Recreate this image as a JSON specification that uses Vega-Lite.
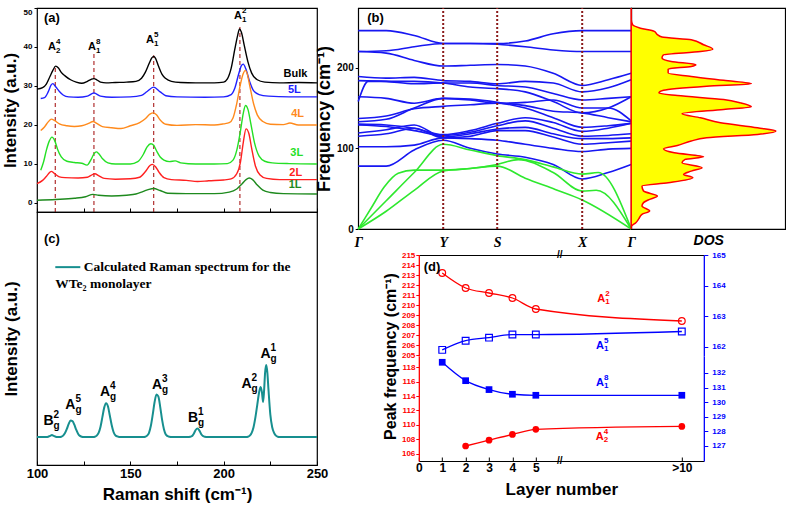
{
"$schema": "https://vega.github.io/schema/vega-lite/v6.json",
"background": "white",
"padding": {"left": 0, "top": 4, "right": 0, "bottom": 0},
"spacing": -15,
"resolve": {"scale": {"color": "independent"}},
"config": {
  "font": "Liberation Sans",
  "axis": {"grid": false, "labelFont": "Liberation Sans", "labelFontWeight": "bold", "titleFont": "Liberation Sans", "titleFontWeight": "bold", "labelColor": "black", "titleColor": "black", "tickColor": "black", "domainColor": "black"},
  "text": {"font": "Liberation Sans", "fontWeight": "bold"}
},
"datasets": {
  "specA": [
    {"s":"Bulk","x":100,"y":29.2},{"s":"Bulk","x":103,"y":29.6},{"s":"Bulk","x":105,"y":30.5},{"s":"Bulk","x":107,"y":32.5},{"s":"Bulk","x":108.5,"y":34.0},{"s":"Bulk","x":110,"y":35.1},{"s":"Bulk","x":111.5,"y":34.6},{"s":"Bulk","x":113,"y":33.5},{"s":"Bulk","x":115,"y":32.6},{"s":"Bulk","x":118,"y":31.6},{"s":"Bulk","x":121,"y":31.0},{"s":"Bulk","x":124,"y":30.7},{"s":"Bulk","x":127,"y":31.2},{"s":"Bulk","x":129,"y":31.7},{"s":"Bulk","x":130.5,"y":31.9},{"s":"Bulk","x":132,"y":31.6},{"s":"Bulk","x":134,"y":31.0},{"s":"Bulk","x":137,"y":30.8},{"s":"Bulk","x":142,"y":30.9},{"s":"Bulk","x":148,"y":31.0},{"s":"Bulk","x":153,"y":31.2},{"s":"Bulk","x":156,"y":32.0},{"s":"Bulk","x":158,"y":33.5},{"s":"Bulk","x":160,"y":35.7},{"s":"Bulk","x":161.5,"y":37.2},{"s":"Bulk","x":162.5,"y":37.6},{"s":"Bulk","x":163.5,"y":37.1},{"s":"Bulk","x":165,"y":35.2},{"s":"Bulk","x":167,"y":33.0},{"s":"Bulk","x":169,"y":31.9},{"s":"Bulk","x":172,"y":31.2},{"s":"Bulk","x":177,"y":30.9},{"s":"Bulk","x":185,"y":30.8},{"s":"Bulk","x":195,"y":30.8},{"s":"Bulk","x":200,"y":31.0},{"s":"Bulk","x":202,"y":31.8},{"s":"Bulk","x":204,"y":34.5},{"s":"Bulk","x":206,"y":39.5},{"s":"Bulk","x":207.5,"y":43.0},{"s":"Bulk","x":208.5,"y":44.6},{"s":"Bulk","x":209.5,"y":43.8},{"s":"Bulk","x":211,"y":40.5},{"s":"Bulk","x":213,"y":36.2},{"s":"Bulk","x":215,"y":33.3},{"s":"Bulk","x":218,"y":31.6},{"s":"Bulk","x":222,"y":31.0},{"s":"Bulk","x":230,"y":30.8},{"s":"Bulk","x":240,"y":30.9},{"s":"Bulk","x":250,"y":30.8},
    {"s":"5L","x":102,"y":26.8},{"s":"5L","x":104,"y":27.0},{"s":"5L","x":106,"y":28.5},{"s":"5L","x":107.5,"y":30.2},{"s":"5L","x":108.5,"y":30.6},{"s":"5L","x":110,"y":29.8},{"s":"5L","x":112,"y":28.6},{"s":"5L","x":114,"y":27.7},{"s":"5L","x":117,"y":27.2},{"s":"5L","x":122,"y":27.1},{"s":"5L","x":127,"y":27.4},{"s":"5L","x":130.5,"y":28.2},{"s":"5L","x":134,"y":27.4},{"s":"5L","x":140,"y":27.1},{"s":"5L","x":150,"y":27.2},{"s":"5L","x":156,"y":27.6},{"s":"5L","x":159,"y":28.6},{"s":"5L","x":162.5,"y":29.7},{"s":"5L","x":166,"y":28.5},{"s":"5L","x":169,"y":27.5},{"s":"5L","x":175,"y":27.2},{"s":"5L","x":190,"y":27.1},{"s":"5L","x":200,"y":27.2},{"s":"5L","x":204,"y":27.8},{"s":"5L","x":206,"y":29.5},{"s":"5L","x":208,"y":33.0},{"s":"5L","x":209.5,"y":35.2},{"s":"5L","x":210.5,"y":35.6},{"s":"5L","x":212,"y":34.2},{"s":"5L","x":214,"y":31.0},{"s":"5L","x":216,"y":28.8},{"s":"5L","x":219,"y":27.8},{"s":"5L","x":224,"y":27.4},{"s":"5L","x":235,"y":27.2},{"s":"5L","x":250,"y":27.2},
    {"s":"4L","x":102,"y":18.6},{"s":"4L","x":104,"y":19.5},{"s":"4L","x":106,"y":20.8},{"s":"4L","x":107.7,"y":21.5},{"s":"4L","x":109.5,"y":21.1},{"s":"4L","x":112,"y":20.3},{"s":"4L","x":116,"y":19.8},{"s":"4L","x":120,"y":19.6},{"s":"4L","x":124,"y":19.8},{"s":"4L","x":128,"y":20.5},{"s":"4L","x":130,"y":20.9},{"s":"4L","x":132,"y":20.4},{"s":"4L","x":135,"y":19.6},{"s":"4L","x":140,"y":19.3},{"s":"4L","x":145,"y":19.1},{"s":"4L","x":150,"y":19.8},{"s":"4L","x":155,"y":20.6},{"s":"4L","x":158,"y":21.6},{"s":"4L","x":160.5,"y":22.8},{"s":"4L","x":162.3,"y":23.1},{"s":"4L","x":164,"y":22.6},{"s":"4L","x":166,"y":21.3},{"s":"4L","x":169,"y":20.2},{"s":"4L","x":175,"y":19.9},{"s":"4L","x":185,"y":20.1},{"s":"4L","x":195,"y":20.0},{"s":"4L","x":200,"y":20.3},{"s":"4L","x":203,"y":20.6},{"s":"4L","x":205,"y":21.8},{"s":"4L","x":207,"y":25.5},{"s":"4L","x":209,"y":30.5},{"s":"4L","x":210.5,"y":33.2},{"s":"4L","x":211.5,"y":34.0},{"s":"4L","x":212.5,"y":33.3},{"s":"4L","x":214,"y":30.0},{"s":"4L","x":216,"y":25.5},{"s":"4L","x":218,"y":22.6},{"s":"4L","x":221,"y":20.9},{"s":"4L","x":225,"y":20.2},{"s":"4L","x":232,"y":20.1},{"s":"4L","x":235.5,"y":20.5},{"s":"4L","x":240,"y":20.0},{"s":"4L","x":250,"y":20.0},
    {"s":"3L","x":102,"y":8.4},{"s":"3L","x":103.5,"y":10.5},{"s":"3L","x":105,"y":13.5},{"s":"3L","x":106.5,"y":15.8},{"s":"3L","x":108,"y":16.9},{"s":"3L","x":109.5,"y":16.0},{"s":"3L","x":111,"y":13.8},{"s":"3L","x":113,"y":11.8},{"s":"3L","x":116,"y":10.7},{"s":"3L","x":120,"y":10.4},{"s":"3L","x":124,"y":10.2},{"s":"3L","x":126.8,"y":9.7},{"s":"3L","x":129,"y":11.2},{"s":"3L","x":130.5,"y":12.6},{"s":"3L","x":131.8,"y":13.1},{"s":"3L","x":133,"y":12.7},{"s":"3L","x":135,"y":11.4},{"s":"3L","x":138,"y":10.3},{"s":"3L","x":142,"y":10.0},{"s":"3L","x":150,"y":10.0},{"s":"3L","x":154,"y":10.6},{"s":"3L","x":157,"y":12.5},{"s":"3L","x":159,"y":14.4},{"s":"3L","x":161,"y":15.2},{"s":"3L","x":162.5,"y":14.8},{"s":"3L","x":164,"y":13.4},{"s":"3L","x":166,"y":11.8},{"s":"3L","x":168,"y":11.0},{"s":"3L","x":171,"y":10.6},{"s":"3L","x":174,"y":10.8},{"s":"3L","x":177,"y":10.3},{"s":"3L","x":185,"y":10.0},{"s":"3L","x":195,"y":10.0},{"s":"3L","x":202,"y":10.1},{"s":"3L","x":205,"y":11.0},{"s":"3L","x":207,"y":13.5},{"s":"3L","x":209,"y":18.5},{"s":"3L","x":210.5,"y":23.0},{"s":"3L","x":211.7,"y":25.0},{"s":"3L","x":213,"y":24.0},{"s":"3L","x":214.5,"y":20.5},{"s":"3L","x":216.5,"y":15.5},{"s":"3L","x":219,"y":12.0},{"s":"3L","x":222,"y":10.7},{"s":"3L","x":226,"y":10.3},{"s":"3L","x":235,"y":10.1},{"s":"3L","x":250,"y":10.0},
    {"s":"2L","x":100,"y":4.95},{"s":"2L","x":103,"y":5.8},{"s":"2L","x":105,"y":6.8},{"s":"2L","x":107.7,"y":8.1},{"s":"2L","x":110,"y":7.3},{"s":"2L","x":112,"y":6.7},{"s":"2L","x":115,"y":6.5},{"s":"2L","x":122,"y":6.4},{"s":"2L","x":127,"y":6.6},{"s":"2L","x":129,"y":7.1},{"s":"2L","x":131,"y":7.5},{"s":"2L","x":133,"y":7.0},{"s":"2L","x":136,"y":6.3},{"s":"2L","x":142,"y":6.1},{"s":"2L","x":150,"y":6.2},{"s":"2L","x":155,"y":6.6},{"s":"2L","x":158,"y":8.0},{"s":"2L","x":160.5,"y":9.6},{"s":"2L","x":161.8,"y":9.9},{"s":"2L","x":163.5,"y":9.3},{"s":"2L","x":165.5,"y":7.8},{"s":"2L","x":168,"y":6.5},{"s":"2L","x":172,"y":6.0},{"s":"2L","x":180,"y":5.8},{"s":"2L","x":186,"y":5.5},{"s":"2L","x":192,"y":5.7},{"s":"2L","x":200,"y":5.9},{"s":"2L","x":204,"y":6.2},{"s":"2L","x":207,"y":7.5},{"s":"2L","x":209,"y":10.5},{"s":"2L","x":210.5,"y":15.5},{"s":"2L","x":212,"y":19.0},{"s":"2L","x":213.5,"y":17.8},{"s":"2L","x":215,"y":14.0},{"s":"2L","x":217,"y":9.5},{"s":"2L","x":219.5,"y":7.2},{"s":"2L","x":223,"y":6.3},{"s":"2L","x":230,"y":6.0},{"s":"2L","x":250,"y":6.0},
    {"s":"1L","x":100,"y":0.7},{"s":"1L","x":110,"y":0.9},{"s":"1L","x":120,"y":1.2},{"s":"1L","x":126,"y":1.6},{"s":"1L","x":130,"y":2.2},{"s":"1L","x":133,"y":2.0},{"s":"1L","x":140,"y":1.8},{"s":"1L","x":148,"y":2.0},{"s":"1L","x":153,"y":2.3},{"s":"1L","x":157,"y":3.0},{"s":"1L","x":160,"y":3.5},{"s":"1L","x":162.5,"y":3.7},{"s":"1L","x":166,"y":3.2},{"s":"1L","x":170,"y":2.5},{"s":"1L","x":180,"y":2.4},{"s":"1L","x":195,"y":2.4},{"s":"1L","x":203,"y":2.8},{"s":"1L","x":207,"y":3.6},{"s":"1L","x":210,"y":5.0},{"s":"1L","x":212,"y":6.0},{"s":"1L","x":213.7,"y":6.4},{"s":"1L","x":215.5,"y":6.0},{"s":"1L","x":218,"y":4.6},{"s":"1L","x":221,"y":3.3},{"s":"1L","x":225,"y":2.7},{"s":"1L","x":232,"y":2.4},{"s":"1L","x":250,"y":2.3}
  ],
  "serA": [
    {"s":"Bulk","x":232.1,"y":33.2},{"s":"5L","x":234.4,"y":29.1},{"s":"4L","x":236.2,"y":22.9},{"s":"3L","x":235.7,"y":12.9},{"s":"2L","x":235.2,"y":7.8},{"s":"1L","x":234.8,"y":4.5}
  ],
  "dashA": [
    {"x":109.8,"y":-2.31,"y2":35.3},{"x":130.5,"y":-2.31,"y2":38.7},{"x":162.5,"y":-2.31,"y2":37.9},{"x":208.7,"y":-2.31,"y2":45.1}
  ],
  "labA": [
    {"x":108,"y":40,"base":"A","sup":"4","sub":"2"},{"x":129.5,"y":40,"base":"A","sup":"8","sub":"1"},{"x":160.5,"y":41.9,"base":"A","sup":"5","sub":"1"},{"x":207.7,"y":48,"base":"A","sup":"2","sub":"1"}
  ],
  "specC": [
    {"x":100,"y":0},{"x":105,"y":0},{"x":106,"y":0.01},{"x":107,"y":0.04},{"x":108,"y":0.07},{"x":109,"y":0.04},{"x":110,"y":0.01},{"x":111,"y":0},{"x":112,"y":0},{"x":113,"y":0.01},{"x":114,"y":0.05},{"x":115,"y":0.14},{"x":116,"y":0.29},{"x":117,"y":0.47},{"x":118,"y":0.59},{"x":119,"y":0.57},{"x":120,"y":0.44},{"x":121,"y":0.26},{"x":122,"y":0.12},{"x":123,"y":0.04},{"x":124,"y":0.01},{"x":125,"y":0},{"x":130,"y":0},{"x":131,"y":0.01},{"x":132,"y":0.05},{"x":133,"y":0.15},{"x":134,"y":0.36},{"x":135,"y":0.70},{"x":136,"y":1.05},{"x":137,"y":1.21},{"x":138,"y":1.10},{"x":139,"y":0.77},{"x":140,"y":0.43},{"x":141,"y":0.18},{"x":142,"y":0.06},{"x":143,"y":0.02},{"x":144,"y":0},{"x":157,"y":0},{"x":158,"y":0.01},{"x":159,"y":0.05},{"x":160,"y":0.15},{"x":161,"y":0.40},{"x":162,"y":0.80},{"x":163,"y":1.25},{"x":164,"y":1.52},{"x":165,"y":1.45},{"x":166,"y":1.08},{"x":167,"y":0.62},{"x":168,"y":0.28},{"x":169,"y":0.09},{"x":170,"y":0.03},{"x":171,"y":0.01},{"x":172,"y":0},{"x":181,"y":0},{"x":182,"y":0.01},{"x":183,"y":0.03},{"x":184,"y":0.12},{"x":185,"y":0.25},{"x":186,"y":0.30},{"x":187,"y":0.23},{"x":188,"y":0.10},{"x":189,"y":0.03},{"x":190,"y":0.01},{"x":191,"y":0},{"x":212,"y":0},{"x":213,"y":0.01},{"x":214,"y":0.05},{"x":215,"y":0.15},{"x":216,"y":0.35},{"x":217,"y":0.70},{"x":218,"y":1.15},{"x":219,"y":1.60},{"x":219.8,"y":1.79},{"x":220.5,"y":1.60},{"x":221.1,"y":1.25},{"x":221.6,"y":1.60},{"x":222.2,"y":2.30},{"x":222.8,"y":2.57},{"x":223.4,"y":2.30},{"x":224,"y":1.70},{"x":225,"y":0.80},{"x":226,"y":0.35},{"x":227,"y":0.15},{"x":228,"y":0.05},{"x":229,"y":0.01},{"x":230,"y":0},{"x":250,"y":0}
  ],
  "labC": [
    {"x":106.2,"y":0.57,"base":"B","sup":"2","sub":"g"},{"x":117.9,"y":1.16,"base":"A","sup":"5","sub":"g"},{"x":136.4,"y":1.61,"base":"A","sup":"4","sub":"g"},{"x":164.3,"y":1.875,"base":"A","sup":"3","sub":"g"},{"x":183.6,"y":0.68,"base":"B","sup":"1","sub":"g"},{"x":212.2,"y":1.91,"base":"A","sup":"2","sub":"g"},{"x":222.4,"y":2.95,"base":"A","sup":"1","sub":"g"}
  ],
  "bands": [
    {"b":"O1","t":"op","k":0,"f":246},{"b":"O1","t":"op","k":28,"f":246},{"b":"O1","t":"op","k":56,"f":240},{"b":"O1","t":"op","k":85,"f":230},{"b":"O1","t":"op","k":112,"f":230},{"b":"O1","t":"op","k":139,"f":230},{"b":"O1","t":"op","k":167,"f":233},{"b":"O1","t":"op","k":195,"f":242},{"b":"O1","t":"op","k":224,"f":246},{"b":"O1","t":"op","k":250,"f":246},{"b":"O1","t":"op","k":273,"f":246},
    {"b":"O2","t":"op","k":0,"f":220},{"b":"O2","t":"op","k":28,"f":221},{"b":"O2","t":"op","k":56,"f":226},{"b":"O2","t":"op","k":85,"f":230},{"b":"O2","t":"op","k":112,"f":230},{"b":"O2","t":"op","k":139,"f":229},{"b":"O2","t":"op","k":167,"f":226},{"b":"O2","t":"op","k":195,"f":222},{"b":"O2","t":"op","k":224,"f":220},{"b":"O2","t":"op","k":250,"f":220},{"b":"O2","t":"op","k":273,"f":220},
    {"b":"O3","t":"op","k":0,"f":220},{"b":"O3","t":"op","k":28,"f":218},{"b":"O3","t":"op","k":56,"f":209},{"b":"O3","t":"op","k":85,"f":202},{"b":"O3","t":"op","k":112,"f":203},{"b":"O3","t":"op","k":139,"f":204},{"b":"O3","t":"op","k":167,"f":202},{"b":"O3","t":"op","k":195,"f":193},{"b":"O3","t":"op","k":224,"f":178},{"b":"O3","t":"op","k":250,"f":185},{"b":"O3","t":"op","k":273,"f":193},
    {"b":"O4","t":"op","k":0,"f":189},{"b":"O4","t":"op","k":28,"f":187},{"b":"O4","t":"op","k":56,"f":188},{"b":"O4","t":"op","k":85,"f":184},{"b":"O4","t":"op","k":112,"f":183},{"b":"O4","t":"op","k":139,"f":180},{"b":"O4","t":"op","k":167,"f":183},{"b":"O4","t":"op","k":195,"f":181},{"b":"O4","t":"op","k":224,"f":170},{"b":"O4","t":"op","k":250,"f":175},{"b":"O4","t":"op","k":273,"f":185},
    {"b":"O5","t":"op","k":0,"f":184},{"b":"O5","t":"op","k":28,"f":183},{"b":"O5","t":"op","k":56,"f":180},{"b":"O5","t":"op","k":85,"f":181},{"b":"O5","t":"op","k":112,"f":181},{"b":"O5","t":"op","k":139,"f":178},{"b":"O5","t":"op","k":167,"f":176},{"b":"O5","t":"op","k":195,"f":168},{"b":"O5","t":"op","k":224,"f":160},{"b":"O5","t":"op","k":250,"f":162},{"b":"O5","t":"op","k":273,"f":164},
    {"b":"O6","t":"op","k":0,"f":164},{"b":"O6","t":"op","k":28,"f":162},{"b":"O6","t":"op","k":56,"f":156},{"b":"O6","t":"op","k":85,"f":162},{"b":"O6","t":"op","k":112,"f":160},{"b":"O6","t":"op","k":139,"f":156},{"b":"O6","t":"op","k":167,"f":157},{"b":"O6","t":"op","k":195,"f":160},{"b":"O6","t":"op","k":224,"f":150},{"b":"O6","t":"op","k":250,"f":150},{"b":"O6","t":"op","k":273,"f":134},
    {"b":"O7","t":"op","k":0,"f":158},{"b":"O7","t":"op","k":10,"f":183},{"b":"O7","t":"op","k":28,"f":183},{"b":"O7","t":"op","k":56,"f":183},{"b":"O7","t":"op","k":85,"f":181},{"b":"O7","t":"op","k":112,"f":176},{"b":"O7","t":"op","k":139,"f":174},{"b":"O7","t":"op","k":167,"f":170},{"b":"O7","t":"op","k":195,"f":158},{"b":"O7","t":"op","k":224,"f":144},{"b":"O7","t":"op","k":250,"f":150},{"b":"O7","t":"op","k":273,"f":164},
    {"b":"O8","t":"op","k":0,"f":137},{"b":"O8","t":"op","k":28,"f":140},{"b":"O8","t":"op","k":56,"f":149},{"b":"O8","t":"op","k":85,"f":152},{"b":"O8","t":"op","k":112,"f":154},{"b":"O8","t":"op","k":139,"f":156},{"b":"O8","t":"op","k":167,"f":153},{"b":"O8","t":"op","k":195,"f":146},{"b":"O8","t":"op","k":224,"f":144},{"b":"O8","t":"op","k":250,"f":138},{"b":"O8","t":"op","k":273,"f":133},
    {"b":"O9","t":"op","k":0,"f":133},{"b":"O9","t":"op","k":28,"f":136},{"b":"O9","t":"op","k":56,"f":150},{"b":"O9","t":"op","k":85,"f":162},{"b":"O9","t":"op","k":112,"f":161},{"b":"O9","t":"op","k":139,"f":157},{"b":"O9","t":"op","k":167,"f":150},{"b":"O9","t":"op","k":195,"f":138},{"b":"O9","t":"op","k":224,"f":126},{"b":"O9","t":"op","k":250,"f":128},{"b":"O9","t":"op","k":273,"f":131},
    {"b":"O10","t":"op","k":0,"f":130},{"b":"O10","t":"op","k":28,"f":129},{"b":"O10","t":"op","k":56,"f":125},{"b":"O10","t":"op","k":85,"f":117},{"b":"O10","t":"op","k":112,"f":122},{"b":"O10","t":"op","k":139,"f":131},{"b":"O10","t":"op","k":167,"f":138},{"b":"O10","t":"op","k":195,"f":132},{"b":"O10","t":"op","k":224,"f":121},{"b":"O10","t":"op","k":250,"f":125},{"b":"O10","t":"op","k":273,"f":131},
    {"b":"O11","t":"op","k":0,"f":129},{"b":"O11","t":"op","k":28,"f":127},{"b":"O11","t":"op","k":56,"f":122},{"b":"O11","t":"op","k":85,"f":116},{"b":"O11","t":"op","k":112,"f":120},{"b":"O11","t":"op","k":139,"f":128},{"b":"O11","t":"op","k":167,"f":134},{"b":"O11","t":"op","k":195,"f":125},{"b":"O11","t":"op","k":224,"f":115},{"b":"O11","t":"op","k":250,"f":116},{"b":"O11","t":"op","k":273,"f":118},
    {"b":"O12","t":"op","k":0,"f":119},{"b":"O12","t":"op","k":28,"f":123},{"b":"O12","t":"op","k":56,"f":129},{"b":"O12","t":"op","k":85,"f":114},{"b":"O12","t":"op","k":112,"f":118},{"b":"O12","t":"op","k":139,"f":124},{"b":"O12","t":"op","k":167,"f":126},{"b":"O12","t":"op","k":195,"f":118},{"b":"O12","t":"op","k":224,"f":112},{"b":"O12","t":"op","k":250,"f":112},{"b":"O12","t":"op","k":273,"f":113},
    {"b":"O13","t":"op","k":0,"f":115},{"b":"O13","t":"op","k":28,"f":118},{"b":"O13","t":"op","k":56,"f":125},{"b":"O13","t":"op","k":85,"f":113},{"b":"O13","t":"op","k":112,"f":115},{"b":"O13","t":"op","k":139,"f":122},{"b":"O13","t":"op","k":167,"f":122},{"b":"O13","t":"op","k":195,"f":114},{"b":"O13","t":"op","k":224,"f":105},{"b":"O13","t":"op","k":250,"f":107},{"b":"O13","t":"op","k":273,"f":109},
    {"b":"O14","t":"op","k":0,"f":102},{"b":"O14","t":"op","k":28,"f":102},{"b":"O14","t":"op","k":56,"f":104},{"b":"O14","t":"op","k":85,"f":113},{"b":"O14","t":"op","k":112,"f":112},{"b":"O14","t":"op","k":139,"f":110},{"b":"O14","t":"op","k":167,"f":105},{"b":"O14","t":"op","k":195,"f":100},{"b":"O14","t":"op","k":224,"f":96},{"b":"O14","t":"op","k":250,"f":99},{"b":"O14","t":"op","k":273,"f":100},
    {"b":"O15","t":"op","k":0,"f":78},{"b":"O15","t":"op","k":28,"f":78},{"b":"O15","t":"op","k":56,"f":98},{"b":"O15","t":"op","k":85,"f":110},{"b":"O15","t":"op","k":112,"f":100},{"b":"O15","t":"op","k":139,"f":93},{"b":"O15","t":"op","k":167,"f":89},{"b":"O15","t":"op","k":195,"f":80},{"b":"O15","t":"op","k":224,"f":62},{"b":"O15","t":"op","k":250,"f":70},{"b":"O15","t":"op","k":273,"f":80},
    {"b":"G1","t":"ac","k":0,"f":0},{"b":"G1","t":"ac","k":13,"f":26},{"b":"G1","t":"ac","k":26,"f":52},{"b":"G1","t":"ac","k":40,"f":69},{"b":"G1","t":"ac","k":56,"f":73},{"b":"G1","t":"ac","k":85,"f":73},{"b":"G1","t":"ac","k":112,"f":75},{"b":"G1","t":"ac","k":139,"f":80},{"b":"G1","t":"ac","k":160,"f":86},{"b":"G1","t":"ac","k":195,"f":70},{"b":"G1","t":"ac","k":224,"f":47},{"b":"G1","t":"ac","k":238,"f":48},{"b":"G1","t":"ac","k":273,"f":0},
    {"b":"G2","t":"ac","k":0,"f":0},{"b":"G2","t":"ac","k":28,"f":22},{"b":"G2","t":"ac","k":56,"f":48},{"b":"G2","t":"ac","k":85,"f":72},{"b":"G2","t":"ac","k":112,"f":75},{"b":"G2","t":"ac","k":139,"f":78},{"b":"G2","t":"ac","k":167,"f":63},{"b":"G2","t":"ac","k":197,"f":49},{"b":"G2","t":"ac","k":224,"f":36},{"b":"G2","t":"ac","k":273,"f":0},
    {"b":"G3","t":"ac","k":0,"f":0},{"b":"G3","t":"ac","k":28,"f":35},{"b":"G3","t":"ac","k":56,"f":70},{"b":"G3","t":"ac","k":85,"f":105},{"b":"G3","t":"ac","k":112,"f":98},{"b":"G3","t":"ac","k":139,"f":91},{"b":"G3","t":"ac","k":167,"f":86},{"b":"G3","t":"ac","k":195,"f":77},{"b":"G3","t":"ac","k":224,"f":68},{"b":"G3","t":"ac","k":240,"f":70},{"b":"G3","t":"ac","k":273,"f":0}
  ],
  "kpts": [{"k":85,"f":0,"f2":274},{"k":139,"f":0,"f2":274},{"k":224,"f":0,"f2":274}],
  "dos": [
    {"f":0,"d":0},{"f":2.9,"d":0.0},{"f":7.8,"d":0.03},{"f":12.8,"d":0.05},{"f":18.2,"d":0.07},{"f":22.3,"d":0.12},{"f":28.5,"d":0.07},{"f":32.7,"d":0.08},{"f":36,"d":0.11},{"f":40.9,"d":0.17},{"f":47.1,"d":0.08},{"f":53.3,"d":0.07},{"f":57.4,"d":0.24},{"f":63.6,"d":0.40},{"f":67.7,"d":0.34},{"f":71.8,"d":0.39},{"f":76,"d":0.46},{"f":82.2,"d":0.33},{"f":86.3,"d":0.35},{"f":89.6,"d":0.47},{"f":94.5,"d":0.28},{"f":99.5,"d":0.21},{"f":103.6,"d":0.30},{"f":109,"d":0.39},{"f":113.1,"d":0.49},{"f":117.2,"d":0.82},{"f":121.4,"d":0.94},{"f":125.5,"d":0.82},{"f":131.7,"d":0.58},{"f":137.9,"d":0.45},{"f":142.8,"d":0.33},{"f":148.2,"d":0.60},{"f":151.5,"d":0.78},{"f":156.4,"d":0.71},{"f":160.5,"d":0.60},{"f":165.5,"d":0.30},{"f":168.7,"d":0.18},{"f":172,"d":0.21},{"f":177,"d":0.49},{"f":180.2,"d":0.78},{"f":184.3,"d":0.60},{"f":189.2,"d":0.39},{"f":193.4,"d":0.24},{"f":198.3,"d":0.24},{"f":201.6,"d":0.39},{"f":203.7,"d":0.42},{"f":207.7,"d":0.26},{"f":212,"d":0.20},{"f":216,"d":0.21},{"f":220,"d":0.45},{"f":223,"d":0.53},{"f":228.4,"d":0.47},{"f":234.6,"d":0.39},{"f":238,"d":0.20},{"f":241,"d":0.17},{"f":245,"d":0.15},{"f":249,"d":0.06},{"f":253,"d":0.01},{"f":260,"d":0},{"f":274,"d":0}
  ],
  "dpts": [
    {"m":"A12","L":1,"v":213.2},{"m":"A12","L":2,"v":211.7},{"m":"A12","L":3,"v":211.2},{"m":"A12","L":4,"v":210.7},{"m":"A12","L":5,"v":209.6},{"m":"A12","L":10,"v":208.4},
    {"m":"A15","L":1,"v":161.9},{"m":"A15","L":2,"v":162.2},{"m":"A15","L":3,"v":162.3},{"m":"A15","L":4,"v":162.4},{"m":"A15","L":5,"v":162.4},{"m":"A15","L":10,"v":162.5},
    {"m":"A18","L":1,"v":132.73},{"m":"A18","L":2,"v":131.47},{"m":"A18","L":3,"v":130.86},{"m":"A18","L":4,"v":130.54},{"m":"A18","L":5,"v":130.47},{"m":"A18","L":10,"v":130.47},
    {"m":"A24","L":2,"v":107.1},{"m":"A24","L":3,"v":107.9},{"m":"A24","L":4,"v":108.7},{"m":"A24","L":5,"v":109.4},{"m":"A24","L":10,"v":109.8}
  ],
  "dlab": [
    {"m":"A12","L":7.24,"v":210.6,"base":"A","sup":"2","sub":"1"},
    {"m":"A15","L":7.2,"v":162.03,"base":"A","sup":"5","sub":"1"},
    {"m":"A18","L":7.2,"v":131.28,"base":"A","sup":"8","sub":"1"},
    {"m":"A24","L":7.19,"v":108.41,"base":"A","sup":"4","sub":"2"}
  ]
},
"hconcat": [
  {
    "vconcat": [
      {
        "width": 280, "height": 204,
        "view": {"stroke": "black", "strokeWidth": 1.2},
        "encoding": {
          "x": {"field": "x", "type": "quantitative", "scale": {"domain": [100, 250], "nice": false, "zero": false},
                "axis": {"values": [100,125,150,175,200,225,250], "labels": false, "tickSize": -4, "domain": false, "title": null}},
          "y": {"field": "y", "type": "quantitative", "scale": {"domain": [-2.31, 50], "nice": false, "zero": false},
                "axis": {"values": [0,10,20,30,40,50], "labelFontSize": 8, "tickSize": 3, "labelPadding": 2, "labelFlush": true, "domain": false, "title": "Intensity (a.u.)", "titleFontSize": 17, "titlePadding": 4}}
        },
        "layer": [
          {"data": {"name": "dashA"}, "mark": {"type": "rule", "color": "#b03030", "strokeDash": [4,3], "strokeWidth": 1.2}, "encoding": {"y2": {"field": "y2"}}},
          {"data": {"name": "specA"}, "mark": {"type": "line", "strokeWidth": 1.4, "interpolate": "monotone"},
           "encoding": {"color": {"field": "s", "type": "nominal", "scale": {"domain": ["Bulk","5L","4L","3L","2L","1L"], "range": ["#000000","#2020ff","#ff8a1c","#25e025","#ff2020","#1e8a1e"]}, "legend": null}, "detail": {"field": "s"}}},
          {"data": {"name": "serA"}, "mark": {"type": "text", "align": "left", "baseline": "middle", "fontSize": 11, "fontWeight": "bold"},
           "encoding": {"text": {"field": "s"}, "color": {"field": "s", "type": "nominal", "legend": null}}},
          {"data": {"name": "labA"}, "mark": {"type": "text", "align": "center", "baseline": "middle", "fontSize": 11, "fontWeight": "bold"}, "encoding": {"text": {"field": "base"}}},
          {"data": {"name": "labA"}, "mark": {"type": "text", "align": "left", "baseline": "middle", "fontSize": 8, "fontWeight": "bold", "dx": 4, "dy": -5}, "encoding": {"text": {"field": "sup"}}},
          {"data": {"name": "labA"}, "mark": {"type": "text", "align": "left", "baseline": "middle", "fontSize": 8, "fontWeight": "bold", "dx": 4, "dy": 4}, "encoding": {"text": {"field": "sub"}}},
          {"data": {"values": [{"x": 103.7, "y": 47.4, "t": "(a)"}]}, "mark": {"type": "text", "align": "left", "baseline": "middle", "fontSize": 13, "fontWeight": "bold"}, "encoding": {"text": {"field": "t"}}}
        ]
      },
      {
        "width": 280, "height": 253,
        "view": {"stroke": "black", "strokeWidth": 1.2},
        "encoding": {
          "x": {"field": "x", "type": "quantitative", "scale": {"domain": [100, 250], "nice": false, "zero": false},
                "axis": {"values": [100,125,150,175,200,225,250], "labelExpr": "datum.value % 50 == 0 ? datum.label : ''", "labelFontSize": 13, "labelFlush": false, "tickSize": -4, "labelPadding": 6, "domain": false, "title": "Raman shift (cm⁻¹)", "titleFontSize": 17, "titlePadding": 6}},
          "y": {"field": "y", "type": "quantitative", "scale": {"domain": [-1, 8.04], "nice": false, "zero": false},
                "axis": {"labels": false, "ticks": false, "domain": false, "title": "Intensity (a.u.)", "titleFontSize": 17, "titlePadding": 17}}
        },
        "layer": [
          {"data": {"name": "specC"}, "mark": {"type": "line", "color": "#178f8f", "strokeWidth": 2, "interpolate": "monotone"}},
          {"data": {"values": [{"x": 109.8, "x2": 123.2, "y": 6.07}]}, "mark": {"type": "rule", "color": "#178f8f", "strokeWidth": 2}, "encoding": {"x2": {"field": "x2"}}},
          {"data": {"values": [{"x": 125, "y": 6.07, "t": "Calculated Raman spectrum for the"}, {"x": 109.8, "y": 5.47, "t": "WTe₂ monolayer"}]}, "mark": {"type": "text", "align": "left", "baseline": "middle", "font": "Liberation Serif", "fontSize": 13.5, "fontWeight": "bold"}, "encoding": {"text": {"field": "t"}}},
          {"data": {"name": "labC"}, "mark": {"type": "text", "align": "center", "baseline": "middle", "fontSize": 14, "fontWeight": "bold"}, "encoding": {"text": {"field": "base"}}},
          {"data": {"name": "labC"}, "mark": {"type": "text", "align": "left", "baseline": "middle", "fontSize": 10, "fontWeight": "bold", "dx": 5, "dy": -6}, "encoding": {"text": {"field": "sup"}}},
          {"data": {"name": "labC"}, "mark": {"type": "text", "align": "left", "baseline": "middle", "fontSize": 10, "fontWeight": "bold", "dx": 5, "dy": 5}, "encoding": {"text": {"field": "sub"}}},
          {"data": {"values": [{"x": 103.7, "y": 7.07, "t": "(c)"}]}, "mark": {"type": "text", "align": "left", "baseline": "middle", "fontSize": 13, "fontWeight": "bold"}, "encoding": {"text": {"field": "t"}}}
        ]
      }
    ],
    "spacing": 0,
    "bounds": "flush"
  },
  {
    "vconcat": [
      {
        "hconcat": [
          {
            "width": 273, "height": 221,
            "view": {"stroke": "black", "strokeWidth": 1.2},
            "encoding": {
              "x": {"field": "k", "type": "quantitative", "scale": {"domain": [0, 273], "nice": false, "zero": false},
                    "axis": {"values": [0,85,139,224,273], "labelExpr": "datum.value == 85 ? 'Y' : datum.value == 139 ? 'S' : datum.value == 224 ? 'X' : 'Γ'", "labelFlush": false, "ticks": false, "domain": false, "labelFont": "Liberation Serif", "labelFontStyle": "italic", "labelFontSize": 14, "labelPadding": 6, "title": null}},
              "y": {"field": "f", "type": "quantitative", "scale": {"domain": [0, 274], "nice": false, "zero": false},
                    "axis": {"values": [0,100,200], "labelFontSize": 10, "tickSize": 3, "labelPadding": 2, "domain": false, "title": "Frequency (cm⁻¹)", "titleFontSize": 18, "titlePadding": 3}}
            },
            "layer": [
              {"data": {"name": "bands"}, "transform": [{"filter": "datum.t == 'op'"}], "mark": {"type": "line", "color": "#1717f2", "strokeWidth": 1.6, "interpolate": "monotone"},
               "encoding": {"detail": {"field": "b", "type": "nominal"}}},
              {"data": {"name": "bands"}, "transform": [{"filter": "datum.t == 'ac'"}], "mark": {"type": "line", "color": "#2ee82e", "strokeWidth": 1.6, "interpolate": "monotone"},
               "encoding": {"detail": {"field": "b", "type": "nominal"}}},
              {"data": {"name": "kpts"}, "mark": {"type": "rule", "color": "#8b1a1a", "strokeDash": [2,2], "strokeWidth": 2},
               "encoding": {"y2": {"field": "f2"}}},
              {"data": {"values": [{"k": 9, "f": 261, "t": "(b)"}]}, "mark": {"type": "text", "align": "left", "baseline": "middle", "fontSize": 13, "fontWeight": "bold"},
               "encoding": {"text": {"field": "t"}}}
            ]
          },
          {
            "width": 154, "height": 221,
            "view": {"stroke": "black", "strokeWidth": 1.2},
            "data": {"name": "dos"},
            "mark": {"type": "area", "orient": "horizontal", "interpolate": "monotone", "fill": "#ffff00", "stroke": "#ff0000", "strokeWidth": 1.5},
            "encoding": {
              "y": {"field": "f", "type": "quantitative", "scale": {"domain": [0, 274], "nice": false, "zero": false}, "axis": null},
              "x": {"field": "d", "type": "quantitative", "stack": null, "scale": {"domain": [0, 1], "nice": false, "zero": false}, "axis": {"title": "DOS", "labels": false, "ticks": false, "domain": false, "titleFontStyle": "italic", "titleFontSize": 14, "titlePadding": 4}}
            }
          }
        ],
        "spacing": 0,
        "bounds": "flush"
      },
      {
        "vconcat": [
          {
            "width": 285, "height": 101,
            "view": {"stroke": null},
            "layer": [
              {
                "encoding": {
                  "x": {"field": "L", "type": "quantitative", "scale": {"domain": [0, 5, 10, 11.2], "range": [0, 117, 263, 285], "nice": false, "zero": false},
                        "axis": {"orient": "top", "labels": false, "ticks": false, "domain": true, "domainWidth": 1.2, "title": null}},
                  "y": {"field": "v", "type": "quantitative", "scale": {"domain": [204.9, 215], "nice": false, "zero": false},
                        "axis": {"orient": "left", "values": [205,206,207,208,209,210,211,212,213,214,215], "labelColor": "#ff0000", "tickColor": "#ff0000", "domainColor": "#ff0000", "domainWidth": 1.3, "labelFontSize": 8, "tickSize": 3, "labelPadding": 1, "title": null}}
                },
                "layer": [
                  {"data": {"name": "dpts"}, "transform": [{"filter": "datum.m == 'A12'"}], "mark": {"type": "line", "color": "#ff0000", "strokeWidth": 1.3, "interpolate": "monotone"}},
                  {"data": {"name": "dpts"}, "transform": [{"filter": "datum.m == 'A12'"}], "mark": {"type": "point", "shape": "circle", "filled": false, "color": "#ff0000", "size": 45, "strokeWidth": 1.2, "opacity": 1}},
                  {"data": {"name": "dlab"}, "transform": [{"filter": "datum.m == 'A12'"}], "mark": {"type": "text", "color": "#ff0000", "align": "center", "baseline": "middle", "fontSize": 11}, "encoding": {"text": {"field": "base"}}},
                  {"data": {"name": "dlab"}, "transform": [{"filter": "datum.m == 'A12'"}], "mark": {"type": "text", "color": "#ff0000", "align": "left", "baseline": "middle", "fontSize": 8, "dx": 4, "dy": -5}, "encoding": {"text": {"field": "sup"}}},
                  {"data": {"name": "dlab"}, "transform": [{"filter": "datum.m == 'A12'"}], "mark": {"type": "text", "color": "#ff0000", "align": "left", "baseline": "middle", "fontSize": 8, "dx": 4, "dy": 3}, "encoding": {"text": {"field": "sub"}}},
                  {"data": {"values": [{"L": 0.21, "v": 213.8, "t": "(d)"}]}, "mark": {"type": "text", "align": "left", "baseline": "middle", "fontSize": 13}, "encoding": {"text": {"field": "t"}}},
                  {"data": {"values": [{"L": 5.82, "v": 215, "t": "//"}]}, "mark": {"type": "text", "align": "center", "baseline": "middle", "fontSize": 10}, "encoding": {"text": {"field": "t"}}}
                ]
              },
              {
                "encoding": {
                  "x": {"field": "L", "type": "quantitative", "scale": {"domain": [0, 5, 10, 11.2], "range": [0, 117, 263, 285], "nice": false, "zero": false},
                        "axis": {"orient": "top", "labels": false, "ticks": false, "domain": true, "domainWidth": 1.2, "title": null}},
                  "y": {"field": "v", "type": "quantitative", "scale": {"domain": [161.7, 165], "nice": false, "zero": false},
                        "axis": {"orient": "right", "values": [162,163,164,165], "labelColor": "#0000ff", "tickColor": "#0000ff", "domainColor": "#0000ff", "domainWidth": 1.3, "labelFontSize": 8, "tickSize": 4, "labelPadding": 4, "title": null}}
                },
                "layer": [
                  {"data": {"name": "dpts"}, "transform": [{"filter": "datum.m == 'A15'"}], "mark": {"type": "line", "color": "#0000ff", "strokeWidth": 1.3, "interpolate": "monotone"}},
                  {"data": {"name": "dpts"}, "transform": [{"filter": "datum.m == 'A15'"}], "mark": {"type": "point", "shape": "square", "filled": false, "color": "#0000ff", "size": 45, "strokeWidth": 1.2, "opacity": 1}},
                  {"data": {"name": "dlab"}, "transform": [{"filter": "datum.m == 'A15'"}], "mark": {"type": "text", "color": "#0000ff", "align": "center", "baseline": "middle", "fontSize": 11}, "encoding": {"text": {"field": "base"}}},
                  {"data": {"name": "dlab"}, "transform": [{"filter": "datum.m == 'A15'"}], "mark": {"type": "text", "color": "#0000ff", "align": "left", "baseline": "middle", "fontSize": 8, "dx": 4, "dy": -5}, "encoding": {"text": {"field": "sup"}}},
                  {"data": {"name": "dlab"}, "transform": [{"filter": "datum.m == 'A15'"}], "mark": {"type": "text", "color": "#0000ff", "align": "left", "baseline": "middle", "fontSize": 8, "dx": 4, "dy": 3}, "encoding": {"text": {"field": "sub"}}}
                ]
              }
            ],
            "resolve": {"scale": {"y": "independent"}}
          },
          {
            "width": 285, "height": 105,
            "view": {"stroke": null},
            "layer": [
              {
                "encoding": {
                  "x": {"field": "L", "type": "quantitative", "scale": {"domain": [0, 5, 10, 11.2], "range": [0, 117, 263, 285], "nice": false, "zero": false},
                        "axis": {"orient": "bottom", "values": [0,1,2,3,4,5,10], "labelExpr": "datum.value == 10 ? '>10' : datum.label", "labelFlush": false, "labelFontSize": 12, "tickSize": -4, "labelPadding": 5, "domainWidth": 1.2, "title": "Layer number", "titleFontSize": 17, "titlePadding": 8}},
                  "y": {"field": "v", "type": "quantitative", "scale": {"domain": [105.03, 119.52], "nice": false, "zero": false},
                        "axis": {"orient": "left", "values": [106,108,110,112,114,116,118], "labelColor": "#ff0000", "tickColor": "#ff0000", "domainColor": "#ff0000", "domainWidth": 1.3, "labelFontSize": 8, "tickSize": 3, "labelPadding": 1, "title": "Peak frequency (cm⁻¹)", "titleFontSize": 16, "titlePadding": 3, "titleY": 0}}
                },
                "layer": [
                  {"data": {"name": "dpts"}, "transform": [{"filter": "datum.m == 'A24'"}], "mark": {"type": "line", "color": "#ff0000", "strokeWidth": 1.3, "interpolate": "monotone"}},
                  {"data": {"name": "dpts"}, "transform": [{"filter": "datum.m == 'A24'"}], "mark": {"type": "point", "shape": "circle", "filled": true, "color": "#ff0000", "size": 45, "opacity": 1}},
                  {"data": {"name": "dlab"}, "transform": [{"filter": "datum.m == 'A24'"}], "mark": {"type": "text", "color": "#ff0000", "align": "center", "baseline": "middle", "fontSize": 11}, "encoding": {"text": {"field": "base"}}},
                  {"data": {"name": "dlab"}, "transform": [{"filter": "datum.m == 'A24'"}], "mark": {"type": "text", "color": "#ff0000", "align": "left", "baseline": "middle", "fontSize": 8, "dx": 4, "dy": -5}, "encoding": {"text": {"field": "sup"}}},
                  {"data": {"name": "dlab"}, "transform": [{"filter": "datum.m == 'A24'"}], "mark": {"type": "text", "color": "#ff0000", "align": "left", "baseline": "middle", "fontSize": 8, "dx": 4, "dy": 3}, "encoding": {"text": {"field": "sub"}}},
                  {"data": {"values": [{"L": 5.82, "v": 105.03, "t": "//"}]}, "mark": {"type": "text", "align": "center", "baseline": "middle", "fontSize": 10}, "encoding": {"text": {"field": "t"}}}
                ]
              },
              {
                "encoding": {
                  "x": {"field": "L", "type": "quantitative", "scale": {"domain": [0, 5, 10, 11.2], "range": [0, 117, 263, 285], "nice": false, "zero": false},
                        "axis": {"orient": "bottom", "values": [0,1,2,3,4,5,10], "labelExpr": "datum.value == 10 ? '>10' : datum.label", "labelFlush": false, "labelFontSize": 12, "tickSize": -4, "labelPadding": 5, "domainWidth": 1.2, "title": "Layer number", "titleFontSize": 17, "titlePadding": 8}},
                  "y": {"field": "v", "type": "quantitative", "scale": {"domain": [125.97, 133.16], "nice": false, "zero": false},
                        "axis": {"orient": "right", "values": [127,128,129,130,131,132], "labelColor": "#0000ff", "tickColor": "#0000ff", "domainColor": "#0000ff", "domainWidth": 1.3, "labelFontSize": 8, "tickSize": 4, "labelPadding": 4, "title": null}}
                },
                "layer": [
                  {"data": {"name": "dpts"}, "transform": [{"filter": "datum.m == 'A18'"}], "mark": {"type": "line", "color": "#0000ff", "strokeWidth": 1.3, "interpolate": "monotone"}},
                  {"data": {"name": "dpts"}, "transform": [{"filter": "datum.m == 'A18'"}], "mark": {"type": "point", "shape": "square", "filled": true, "color": "#0000ff", "size": 45, "opacity": 1}},
                  {"data": {"name": "dlab"}, "transform": [{"filter": "datum.m == 'A18'"}], "mark": {"type": "text", "color": "#0000ff", "align": "center", "baseline": "middle", "fontSize": 11}, "encoding": {"text": {"field": "base"}}},
                  {"data": {"name": "dlab"}, "transform": [{"filter": "datum.m == 'A18'"}], "mark": {"type": "text", "color": "#0000ff", "align": "left", "baseline": "middle", "fontSize": 8, "dx": 4, "dy": -5}, "encoding": {"text": {"field": "sup"}}},
                  {"data": {"name": "dlab"}, "transform": [{"filter": "datum.m == 'A18'"}], "mark": {"type": "text", "color": "#0000ff", "align": "left", "baseline": "middle", "fontSize": 8, "dx": 4, "dy": 3}, "encoding": {"text": {"field": "sub"}}}
                ]
              }
            ],
            "resolve": {"scale": {"y": "independent"}}
          }
        ],
        "spacing": 0,
        "bounds": "flush"
      }
    ],
    "spacing": 0,
    "center": true
  }
]
}
